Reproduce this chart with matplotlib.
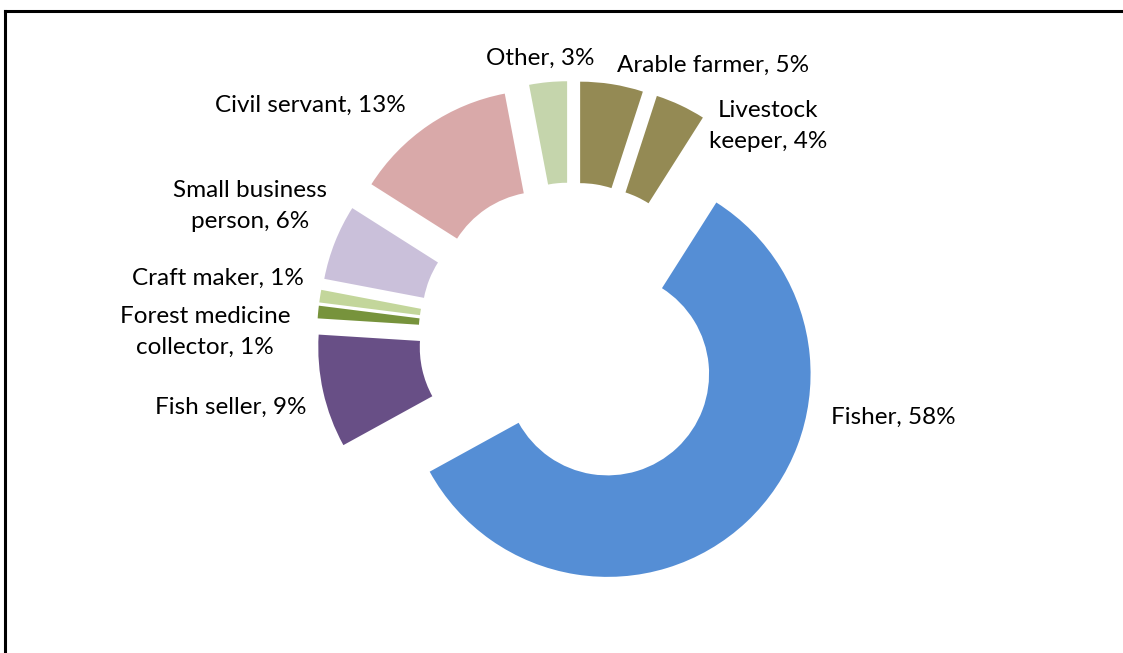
import matplotlib
matplotlib.use("Agg")
import matplotlib.pyplot as plt
from matplotlib.lines import Line2D

plt.rcParams['font.family'] = ['Lato', 'DejaVu Sans']

# Occupations, clockwise from 12 o'clock
occupations = ["Arable farmer", "Livestock\nkeeper", "Fisher", "Fish seller",
               "Forest medicine\ncollector", "Craft maker", "Small business\nperson",
               "Civil servant", "Other"]
shares = [5, 4, 58, 9, 1, 1, 6, 13, 3]
colors = ["#948A54", "#948A54", "#558ED5", "#684F86", "#77933C",
          "#C3D69B", "#CAC0DA", "#D9A9A9", "#C5D5AC"]

# Label centres in pixels (x from left, y from top)
label_px = [(713, 65), (768, 126), (893, 417), (231, 407),
            (205, 332), (218, 278), (250, 206), (310, 105), (540, 58)]

W, H = 1123, 653
cx, cy = 572, 336          # donut centre in pixels (from top-left)
scale = 203.0              # pixels per unit radius

fig = plt.figure(figsize=(W / 100, H / 100), dpi=100)
ax = fig.add_axes([0, 0, 1, 1])

ax.pie(shares, colors=colors, startangle=90, counterclock=False,
       radius=1.0, explode=[0.256] * len(shares),
       wedgeprops=dict(width=0.5, edgecolor="none"), center=(0, 0), frame=False)
ax.set_xlim(-cx / scale, (W - cx) / scale)
ax.set_ylim(-(H - cy) / scale, cy / scale)
ax.set_aspect("equal")
ax.axis("off")

for name, val, (px, py) in zip(occupations, shares, label_px):
    ax.text((px - cx) / scale, (cy - py) / scale, f"{name}, {val}%",
            ha="center", va="center", fontsize=17.5, color="black",
            linespacing=1.55)

# Chart frame (top and left edges visible)
fig.add_artist(Line2D([5 / W, 1.0], [1 - 11 / H, 1 - 11 / H], transform=fig.transFigure,
                      color="black", lw=2.2))
fig.add_artist(Line2D([5 / W, 5 / W], [0, 1 - 11 / H], transform=fig.transFigure,
                      color="black", lw=2.2))

fig.savefig("out.png", dpi=100)
